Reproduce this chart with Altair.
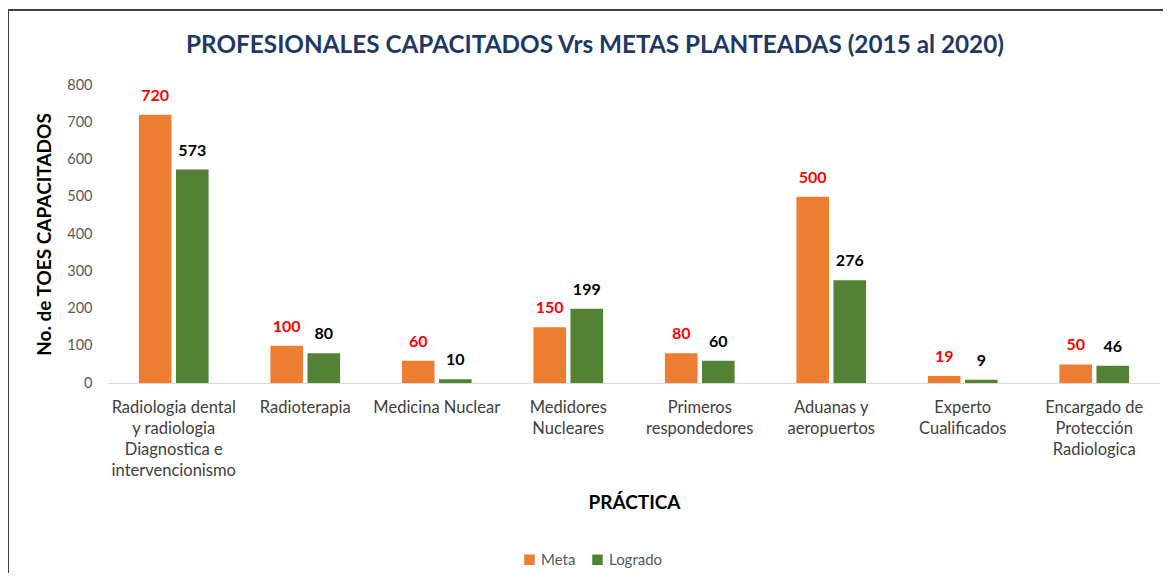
import altair as alt
import pandas as pd

categories = [
    "Radiologia dental\ny radiologia\nDiagnostica e\nintervencionismo",
    "Radioterapia",
    "Medicina Nuclear",
    "Medidores\nNucleares",
    "Primeros\nrespondedores",
    "Aduanas y\naeropuertos",
    "Experto\nCualificados",
    "Encargado de\nProtección\nRadiologica",
]
meta = [720, 100, 60, 150, 80, 500, 19, 50]
logrado = [573, 80, 10, 199, 60, 276, 9, 46]
series = ["Meta", "Logrado"]
y_ticks = [0, 100, 200, 300, 400, 500, 600, 700, 800]

rows = []
for c, m, l in zip(categories, meta, logrado):
    rows.append({"Practica": c, "Serie": "Meta", "Valor": m})
    rows.append({"Practica": c, "Serie": "Logrado", "Valor": l})
df = pd.DataFrame(rows)

FONT = "Lato"

x_enc = alt.X(
    "Practica:N",
    sort=categories,
    scale=alt.Scale(paddingInner=0.47, paddingOuter=0.235),
    axis=alt.Axis(
        title="PRÁCTICA",
        labelAngle=0,
        labelExpr="split(datum.label, '\\n')",
        labelFontSize=16.5,
        labelColor="#404040",
        labelPadding=16,
        labelLineHeight=21,
        labelBaseline="top",
        ticks=False,
        domainColor="#D9D9D9",
        titleFontSize=19,
        titleFontWeight="bold",
        titleColor="#000000",
        titleY=110,
    ),
)
xo = alt.XOffset("Serie:N", sort=series, scale=alt.Scale(paddingInner=0.12))

y_enc = alt.Y(
    "Valor:Q",
    scale=alt.Scale(domain=[0, 800]),
    axis=alt.Axis(
        title="No. de TOES CAPACITADOS",
        values=y_ticks,
        tickCount=9,
        grid=False,
        domain=False,
        ticks=False,
        labelOverlap=False,
        labelFontSize=14.5,
        labelColor="#595959",
        labelPadding=16,
        titleFontSize=19,
        titleFontWeight="bold",
        titleColor="#000000",
        titleX=-54,
    ),
)

bars = alt.Chart(df).mark_bar().encode(
    x=x_enc,
    xOffset=xo,
    y=y_enc,
    color=alt.Color(
        "Serie:N",
        sort=series,
        scale=alt.Scale(domain=series, range=["#ED7D31", "#548235"]),
        legend=alt.Legend(
            title=None,
            orient="none",
            direction="horizontal",
            legendX=414,
            legendY=467,
            symbolType="square",
            symbolSize=110,
            labelFontSize=15,
            labelColor="#595959",
            columnPadding=14,
        ),
    ),
)

labels = alt.Chart(df).mark_text(
    baseline="bottom", dy=-11, fontSize=16, fontWeight="bold", font=FONT
).encode(
    x=x_enc,
    xOffset=xo,
    y=y_enc,
    text=alt.Text("Valor:Q"),
    color=alt.Color(
        "Serie:N",
        scale=alt.Scale(domain=series, range=["#FF0000", "#000000"]),
        legend=None,
    ),
)

border_top = alt.Chart(df).mark_rule(color="#404040", strokeWidth=1.5).encode(
    x=alt.value(-100), x2=alt.value(1070), y=alt.value(-75)
)
border_left = alt.Chart(df).mark_rule(color="#404040", strokeWidth=1.5).encode(
    x=alt.value(-100), y=alt.value(-75), y2=alt.value(500)
)

chart = (
    alt.layer(bars, labels, border_top, border_left)
    .resolve_scale(color="independent")
    .properties(
        width=1052,
        height=298,
        autosize=alt.AutoSizeParams(type="none"),
        padding={"left": 100, "top": 77, "right": 3, "bottom": 190},
        title=alt.TitleParams(
            "PROFESIONALES CAPACITADOS Vrs METAS PLANTEADAS (2015 al 2020)",
            fontSize=24.3,
            fontWeight="bold",
            color="#1F3864",
            anchor="middle",
            frame="group",
            dx=-39,
            offset=-49,
            font=FONT,
        ),
    )
    .configure(font=FONT)
    .configure_view(stroke=None)
)

chart.save("out.html", embed_options={"renderer": "svg", "actions": False})
